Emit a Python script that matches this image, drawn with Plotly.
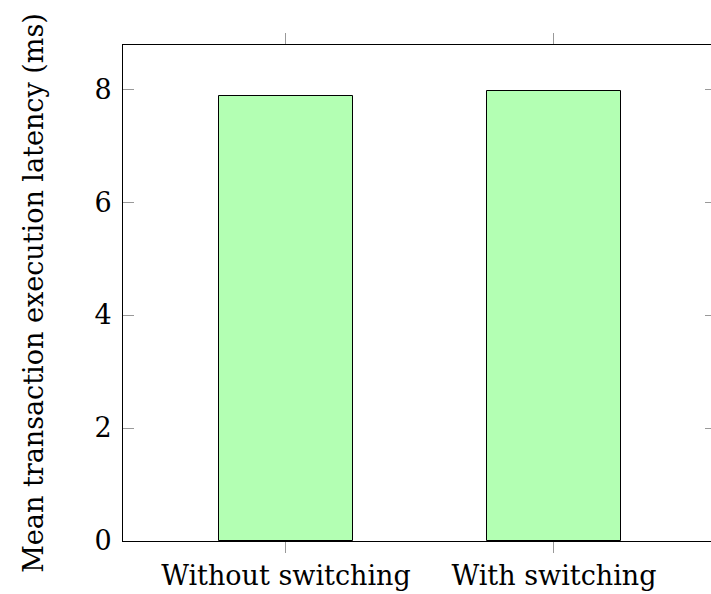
import plotly.graph_objects as go

categories = ["Without switching", "With switching"]
latency_ms = [7.88, 7.96]
y_ticks = [0, 2, 4, 6, 8]

FONT = "DejaVu Serif"
SIZE = 27
fig = go.Figure()
fig.add_trace(go.Bar(
    x=[0, 1], y=latency_ms, width=0.5,
    marker=dict(color="#b3ffb3", line=dict(color="black", width=1)),
    yaxis="y",
))
# invisible trace to activate mirrored right-side ticks
fig.add_trace(go.Scatter(x=[0, 1], y=latency_ms, yaxis="y2", mode="markers",
                         marker=dict(opacity=0), showlegend=False, hoverinfo="skip"))

fig.update_layout(
    width=711, height=594,
    margin=dict(l=123, r=0, t=45, b=53),
    plot_bgcolor="white", paper_bgcolor="white",
    font=dict(family=FONT, size=SIZE, color="black"),
    showlegend=False,
    bargap=0,
    xaxis=dict(
        range=[-0.608, 1.586], automargin=False,
        tickmode="array", tickvals=[0, 1], ticktext=categories,
        ticks="outside", ticklen=11, tickcolor="#999", tickwidth=1,
        showline=True, linecolor="black", linewidth=1, mirror="ticks",
        showgrid=False, zeroline=False,
        tickfont=dict(family=FONT, size=SIZE),
    ),
    yaxis=dict(
        range=[0, 8.78], automargin=False,
        tickmode="array", tickvals=y_ticks,
        ticks="inside", ticklen=11, tickcolor="#999", tickwidth=1,
        showline=True, linecolor="black", linewidth=1, mirror=False,
        showgrid=False, zeroline=False,
        ticklabelstandoff=5,
        tickfont=dict(family=FONT, size=SIZE),
        title=dict(text="Mean transaction execution latency (ms)", standoff=42,
                   font=dict(family=FONT, size=SIZE)),
    ),
    yaxis2=dict(
        range=[0, 8.78], overlaying="y", side="right", automargin=False,
        tickmode="array", tickvals=y_ticks, showticklabels=False,
        ticks="inside", ticklen=6, tickcolor="#999", tickwidth=1,
        showline=False, showgrid=False, zeroline=False,
    ),
)
fig.write_html("out.html")
